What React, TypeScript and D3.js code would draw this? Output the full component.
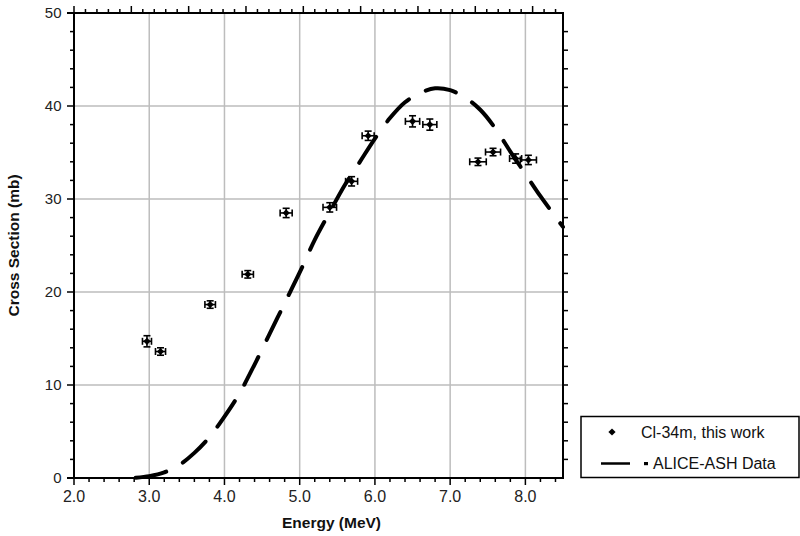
import React from "react";
import * as d3 from "d3";

const pointE = [2.97, 3.15, 3.81, 4.31, 4.82, 5.4, 5.69, 5.91, 6.5, 6.73, 7.37, 7.57, 7.87, 8.04];
const pointXS = [14.7, 13.6, 18.65, 21.9, 28.5, 29.1, 31.9, 36.8, 38.35, 38.0, 34.0, 35.05, 34.35, 34.2];
const pointEErr = [0.06, 0.067, 0.07, 0.075, 0.08, 0.09, 0.08, 0.08, 0.095, 0.093, 0.11, 0.1, 0.08, 0.107];
const pointXSErr = [0.6, 0.4, 0.4, 0.4, 0.5, 0.5, 0.5, 0.5, 0.6, 0.6, 0.4, 0.4, 0.5, 0.5];

const curveE = [2.77, 3.0, 3.2, 3.4, 3.6, 3.8, 4.0, 4.2, 4.4, 4.6, 4.8, 5.0, 5.2, 5.4, 5.6, 5.8, 6.0, 6.2, 6.4, 6.6, 6.8, 7.0, 7.2, 7.4, 7.6, 7.8, 8.0, 8.2, 8.5];
const curveXS = [0, 0.2, 0.6, 1.4, 2.7, 4.4, 6.6, 9.1, 12.2, 15.5, 18.8, 22.1, 25.6, 28.6, 31.5, 34.0, 36.5, 38.7, 40.4, 41.4, 41.9, 41.7, 40.9, 39.6, 37.6, 35.1, 32.7, 30.3, 27.0];

const xTickLabels = ["2.0", "3.0", "4.0", "5.0", "6.0", "7.0", "8.0"];
const yTickLabels = ["0", "10", "20", "30", "40", "50"];
const legendLabels = ["Cl-34m, this work", "ALICE-ASH Data"];
const xTitle = "Energy (MeV)";
const yTitle = "Cross Section (mb)";

const FONT = "'Liberation Sans', Arial, Helvetica, sans-serif";

export default function App() {
  const L = 74, R = 563, T = 13, B = 478;
  const x = d3.scaleLinear().domain([2, 8.5]).range([L, R]);
  const y = d3.scaleLinear().domain([0, 50]).range([B, T]);
  const xTop = d3.scaleLinear().domain([0, 8.53]).range([L, R]);

  const xMajor = xTickLabels.map(Number);
  const xMinor = d3.range(2, 8.5001, 0.2).filter((v) => Math.abs(v - Math.round(v)) > 1e-6);
  const yMajor = yTickLabels.map(Number);
  const yMinor = d3.range(0, 50.001, 2).filter((v) => v % 10 !== 0);
  const topMajor = d3.range(0, 8.6, 1);
  const topMinor = d3.range(0, 8.53, 0.2).filter((v) => Math.abs(v - Math.round(v)) > 1e-6);

  const curveData = curveE.map((e, i) => [e, curveXS[i]] as [number, number]);
  const line = d3
    .line<[number, number]>()
    .x((d) => x(d[0]))
    .y((d) => y(d[1]))
    .curve(d3.curveCatmullRom.alpha(0.5));

  const points = pointE.map((e, i) => ({ e, xs: pointXS[i], ee: pointEErr[i], xe: pointXSErr[i] }));
  const grid = "#bdbdbd";
  const diamond = (cx: number, cy: number, r: number) =>
    `M${cx},${cy - r}L${cx + r},${cy}L${cx},${cy + r}L${cx - r},${cy}Z`;

  return (
    <div style={{ position: "fixed", left: 0, top: 0 }}>
      <svg width={800} height={536} style={{ display: "block", background: "#fff" }} fontFamily={FONT}>
        {/* grid */}
        {xMajor.filter((v) => v > 2).map((v) => (
          <line key={"gx" + v} x1={x(v)} x2={x(v)} y1={T} y2={B} stroke={grid} strokeWidth={1.5} />
        ))}
        {yMajor.filter((v) => v > 0 && v < 50).map((v) => (
          <line key={"gy" + v} x1={L} x2={R} y1={y(v)} y2={y(v)} stroke={grid} strokeWidth={1.5} />
        ))}

        {/* curve */}
        <path
          d={line(curveData) || ""}
          fill="none"
          stroke="#000"
          strokeWidth={4}
          strokeLinecap="round"
          strokeDasharray="31 19"
          strokeDashoffset={-4}
        />

        {/* points with error bars */}
        {points.map((p, i) => {
          const cx = x(p.e), cy = y(p.xs);
          const x1 = x(p.e - p.ee), x2 = x(p.e + p.ee);
          const y1 = y(p.xs - p.xe), y2 = y(p.xs + p.xe);
          return (
            <g key={"p" + i} stroke="#000" strokeWidth={1.6}>
              <line x1={x1} x2={x2} y1={cy} y2={cy} />
              <line x1={x1} x2={x1} y1={cy - 3.5} y2={cy + 3.5} />
              <line x1={x2} x2={x2} y1={cy - 3.5} y2={cy + 3.5} />
              <line x1={cx} x2={cx} y1={y1} y2={y2} />
              <line x1={cx - 3.5} x2={cx + 3.5} y1={y1} y2={y1} />
              <line x1={cx - 3.5} x2={cx + 3.5} y1={y2} y2={y2} />
              <path d={diamond(cx, cy, 3.6)} fill="#000" stroke="none" />
            </g>
          );
        })}

        {/* axes lines */}
        <g stroke="#000" strokeWidth={2} fill="none">
          <line x1={L} x2={L} y1={T - 1} y2={B + 1} />
          <line x1={R} x2={R} y1={T - 1} y2={B + 1} />
          <line x1={L - 7} x2={R + 1} y1={T} y2={T} />
          <line x1={L - 7} x2={R + 1} y1={B} y2={B} />
        </g>

        {/* bottom ticks */}
        <g stroke="#000" strokeWidth={1.5}>
          {xMajor.map((v) => (
            <line key={"bx" + v} x1={x(v)} x2={x(v)} y1={B} y2={B + 7} />
          ))}
          {xMinor.map((v) => (
            <line key={"bm" + v} x1={x(v)} x2={x(v)} y1={B} y2={B + 4} />
          ))}
          {topMajor.map((v) => (
            <line key={"tx" + v} x1={xTop(v)} x2={xTop(v)} y1={T} y2={T - 7} />
          ))}
          {topMinor.map((v) => (
            <line key={"tm" + v} x1={xTop(v)} x2={xTop(v)} y1={T} y2={T - 4} />
          ))}
          {yMajor.map((v) => (
            <line key={"ly" + v} x1={L} x2={L - 7} y1={y(v)} y2={y(v)} />
          ))}
          {yMinor.map((v) => (
            <line key={"lm" + v} x1={L} x2={L - 4} y1={y(v)} y2={y(v)} />
          ))}
          {yMajor.concat(yMinor).filter((v) => v > 0 && v < 50).map((v) => (
            <line key={"ry" + v} x1={R} x2={R + 5} y1={y(v)} y2={y(v)} />
          ))}
        </g>

        {/* tick labels */}
        {xTickLabels.map((t) => (
          <text key={"xl" + t} x={x(Number(t))} y={501.5} fontSize={16} textAnchor="middle" fill="#222">
            {t}
          </text>
        ))}
        {yTickLabels.map((t) => (
          <text key={"yl" + t} x={61.5} y={y(Number(t)) + 5.3} fontSize={15} textAnchor="end" fill="#222">
            {t}
          </text>
        ))}

        {/* titles */}
        <text x={331.5} y={528} fontSize={15.5} fontWeight="bold" textAnchor="middle" fill="#111">
          {xTitle}
        </text>
        <text
          transform={`translate(18.5,${(T + B) / 2}) rotate(-90)`}
          fontSize={15.5}
          fontWeight="bold"
          textAnchor="middle"
          fill="#111"
        >
          {yTitle}
        </text>

        {/* legend */}
        <rect x={581} y={416.5} width={218} height={61} fill="#fff" stroke="#000" strokeWidth={1.5} />
        <path d={diamond(612, 432, 3.6)} fill="#000" />
        <text x={641} y={437.5} fontSize={16} fill="#111">
          {legendLabels[0]}
        </text>
        <line x1={601} x2={630} y1={463.5} y2={463.5} stroke="#000" strokeWidth={2.5} />
        <rect x={644} y={462} width={4} height={3.2} fill="#000" />
        <text x={653} y={469} fontSize={16} fill="#111">
          {legendLabels[1]}
        </text>
      </svg>
    </div>
  );
}
